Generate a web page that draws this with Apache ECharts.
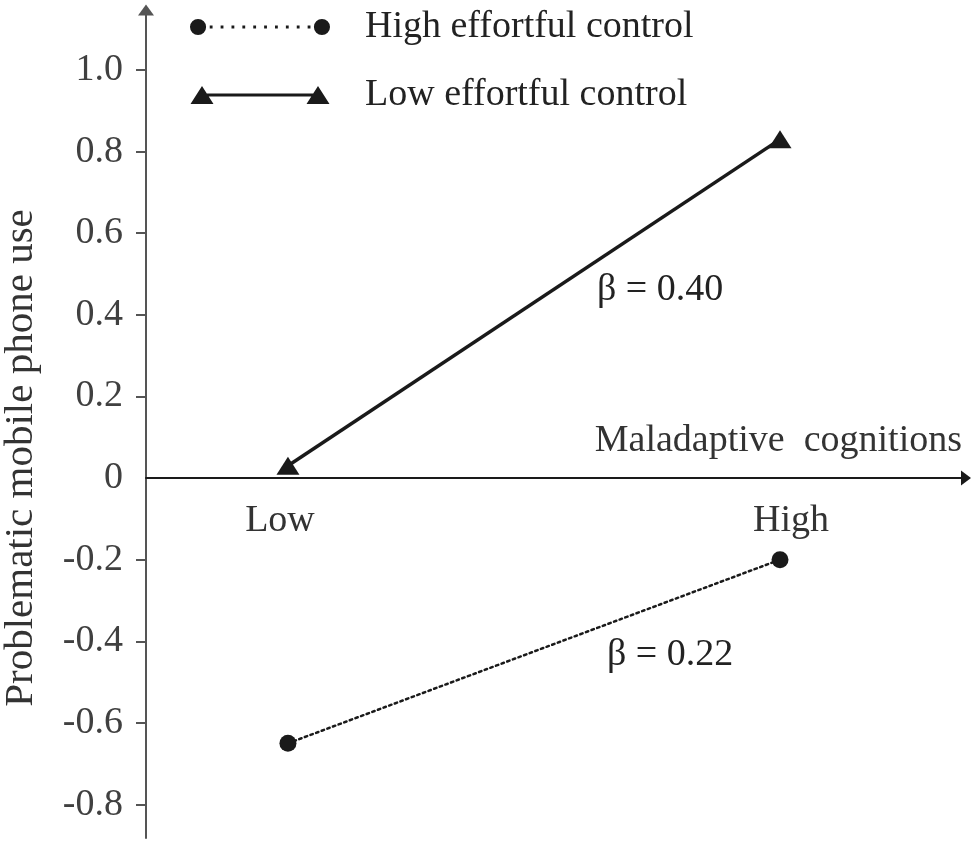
<!DOCTYPE html>
<html>
<head>
<meta charset="utf-8">
<script src="https://cdn.jsdelivr.net/npm/echarts@6/dist/echarts.min.js"></script>
<style>
  html, body { margin: 0; padding: 0; background: #fff; }
  #main { width: 973px; height: 844px; }
</style>
</head>
<body>
<div id="main"></div>
<script>
// data
var xLevels = [-1, 1];               // Low / High maladaptive cognitions
var xLevelNames = ['Low', 'High'];
var highEC = [-0.65, -0.20];         // High effortful control
var lowEC = [0.03, 0.83];            // Low effortful control
var yTicks = [-0.8, -0.6, -0.4, -0.2, 0.2, 0.4, 0.6, 0.8, 1.0];
var yLabels = [-0.8, -0.6, -0.4, -0.2, 0, 0.2, 0.4, 0.6, 0.8, 1.0];
var seriesNames = ['High effortful control', 'Low effortful control'];
var betas = ['β = 0.22', 'β = 0.40'];

var FONT = 'Liberation Serif';
var FS = 38;
var INK = '#1a1a1a';

function pairs(ys) {
    return xLevels.map(function (x, i) { return [x, ys[i]]; });
}

// legend icons: circle ... circle, triangle ---- triangle
var dotIcon = 'path://M0,8a8,8 0 1,0 16,0a8,8 0 1,0 -16,0Z' +
    'M123,8a8,8 0 1,0 16,0a8,8 0 1,0 -16,0Z';
for (var k = 0; k < 10; k++) {
    var cx = 21 + k * 10.8;
    dotIcon += 'M' + (cx - 1.4) + ',6.6L' + (cx + 1.4) + ',6.6L' + (cx + 1.4) + ',9.4L' + (cx - 1.4) + ',9.4Z';
}
var triIcon = 'path://M0,18L11.5,0L23,18Z M116,18L127.5,0L139,18Z M11,7.5L128,7.5L128,10.5L11,10.5Z';

var myChart = echarts.init(document.getElementById('main'));
var option = {
    backgroundColor: '#fff',
    animation: false,
    textStyle: { fontFamily: FONT },
    grid: { left: 146, right: 7, top: 10, bottom: 6, containLabel: false, outerBoundsMode: 'none' },
    legend: {
        orient: 'vertical',
        left: 185,
        top: 3,
        itemWidth: 140,
        itemHeight: 18,
        itemGap: 30,
        textStyle: { fontFamily: FONT, fontSize: FS, color: '#222', padding: [0, 0, 0, 30] },
        data: [
            { name: seriesNames[0], icon: dotIcon, itemStyle: { color: INK, borderWidth: 0 } },
            { name: seriesNames[1], icon: triIcon, itemStyle: { color: INK, borderWidth: 0 } }
        ]
    },
    xAxis: {
        type: 'value',
        min: -1.577,
        max: 1.756,
        position: 'bottom',
        offset: -360,   // puts the axis on y = 0
        name: 'Maladaptive  cognitions',
        nameLocation: 'end',
        nameGap: -4,
        nameTextStyle: {
            fontFamily: FONT, fontSize: FS, color: '#333',
            align: 'right', verticalAlign: 'bottom', padding: [0, 0, 18, 0]
        },
        axisLine: {
            onZero: false,
            symbol: ['none', 'triangle'],
            symbolSize: [15, 10],
            lineStyle: { color: INK, width: 2 }
        },
        axisTick: { show: false },
        splitLine: { show: false },
        axisLabel: {
            customValues: xLevels,
            margin: 24,
            fontFamily: FONT, fontSize: FS, color: '#333',
            formatter: function (v) {
                var i = xLevels.indexOf(v);
                if (i < 0) return '';
                return '{' + (i === 0 ? 'lo' : 'hi') + '|' + xLevelNames[i] + '}';
            },
            rich: {
                lo: { fontFamily: FONT, fontSize: FS, color: '#333', padding: [0, 16, 0, 0] },
                hi: { fontFamily: FONT, fontSize: FS, color: '#333', padding: [0, 0, 0, 22] }
            }
        }
    },
    yAxis: {
        type: 'value',
        min: -0.882,
        max: 1.147,
        name: 'Problematic mobile phone use',
        nameLocation: 'middle',
        nameGap: 104,
        nameTextStyle: { fontFamily: FONT, fontSize: 41, color: '#333', padding: [0, 68, 0, 0] },
        axisLine: {
            onZero: false,
            symbol: ['none', 'triangle'],
            symbolSize: [16, 11],
            lineStyle: { color: '#555', width: 2 }
        },
        axisTick: { customValues: yTicks, length: 10, lineStyle: { color: '#555', width: 2 } },
        splitLine: { show: false },
        axisLabel: {
            customValues: yLabels,
            margin: 23,
            fontFamily: FONT, fontSize: FS, color: '#404040',
            formatter: function (v) {
                return Math.abs(v) < 1e-9 ? '0' : v.toFixed(1);
            }
        }
    },
    series: [
        {
            name: seriesNames[0],
            type: 'line',
            data: pairs(highEC),
            symbol: 'circle',
            symbolSize: 17,
            symbolKeepAspect: true,
            itemStyle: { color: INK, borderWidth: 0 },
            lineStyle: { color: INK, width: 2.5, type: [2.5, 3.5], cap: 'round' }
        },
        {
            name: seriesNames[1],
            type: 'line',
            data: pairs(lowEC),
            symbol: 'triangle',
            symbolSize: [23, 18],
            symbolKeepAspect: true,
            itemStyle: { color: INK, borderWidth: 0 },
            lineStyle: { color: INK, width: 3.5 }
        }
    ],
    graphic: [
        {
            type: 'text', left: 597, top: 271,
            style: { text: betas[1], fontFamily: FONT, fontSize: FS, fill: '#222' }
        },
        {
            type: 'text', left: 607, top: 636,
            style: { text: betas[0], fontFamily: FONT, fontSize: FS, fill: '#222' }
        }
    ]
};
myChart.setOption(option);
</script>
</body>
</html>
